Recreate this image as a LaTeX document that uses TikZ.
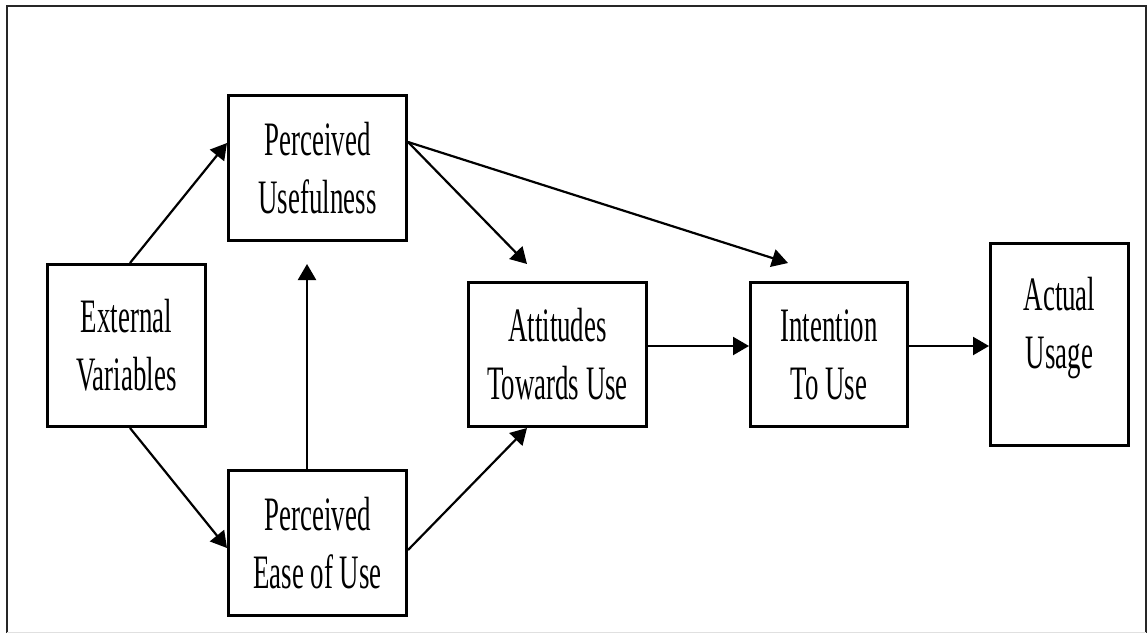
\documentclass[tikz,border=0pt]{standalone}
\usepackage{fontspec}
\setmainfont{Liberation Serif}[FakeStretch=0.56]
\usetikzlibrary{arrows.meta}
\begin{document}
\begin{tikzpicture}[x=1pt,y=-1pt,
  box/.style={draw=black,line width=3pt,fill=white,inner sep=0pt,align=center,
    font=\fontsize{48}{58}\selectfont},
  link/.style={draw=black,line width=2.2pt,-{Triangle[length=16pt,width=18pt]}}]
  \useasboundingbox (0,0) rectangle (1148,633);
  % page frame
  \draw[line width=2pt,black!85] (7,633) -- (7,6) -- (1146,6) -- (1146,633);
  \draw[line width=1pt,black!12] (7,632) -- (1146,632);

  % model boxes
  \node[box,minimum width=158pt,minimum height=162pt] (ext)  at (126.5,345.5) {External\\Variables};
  \node[box,minimum width=178pt,minimum height=145pt] (pu)   at (317.5,168)   {Perceived\\Usefulness};
  \node[box,minimum width=178pt,minimum height=145pt] (peou) at (317.5,543)   {Perceived\\Ease of Use};
  \node[box,minimum width=178pt,minimum height=144pt] (att)  at (557.5,354.5) {Attitudes\\Towards Use};
  \node[box,minimum width=157pt,minimum height=144pt] (int)  at (829,354.5)   {Intention\\To Use};
  \node[box,minimum width=138pt,minimum height=202pt] (act)  at (1059.5,344.5)
    {\raisebox{10pt}[0pt][0pt]{\begin{tabular}{@{}c@{}}Actual\\Usage\end{tabular}}};

  % free arrow ends
  \coordinate (puTip)  at (307,264);
  \coordinate (attTip) at (527,264);
  \coordinate (intTip) at (788,263);

  % connectors
  \draw[link] ([xshift=3.5pt]ext.north) -- ([yshift=25pt]pu.west);
  \draw[link] ([xshift=3.5pt]ext.south) -- ([yshift=-5pt]peou.west);
  \draw[link] ([xshift=-10.5pt]peou.north) -- (puTip);
  \draw[link] ([yshift=26pt]pu.east) -- (attTip);
  \draw[link] ([yshift=26pt]pu.east) -- (intTip);
  \draw[link] ([yshift=-7pt]peou.east) -- ([xshift=-30.5pt]att.south);
  \draw[link] ([yshift=8.5pt]att.east) -- ([yshift=8.5pt]int.west);
  \draw[link] ([yshift=8.5pt]int.east) -- ([yshift=-1.5pt]act.west);
\end{tikzpicture}
\end{document}
